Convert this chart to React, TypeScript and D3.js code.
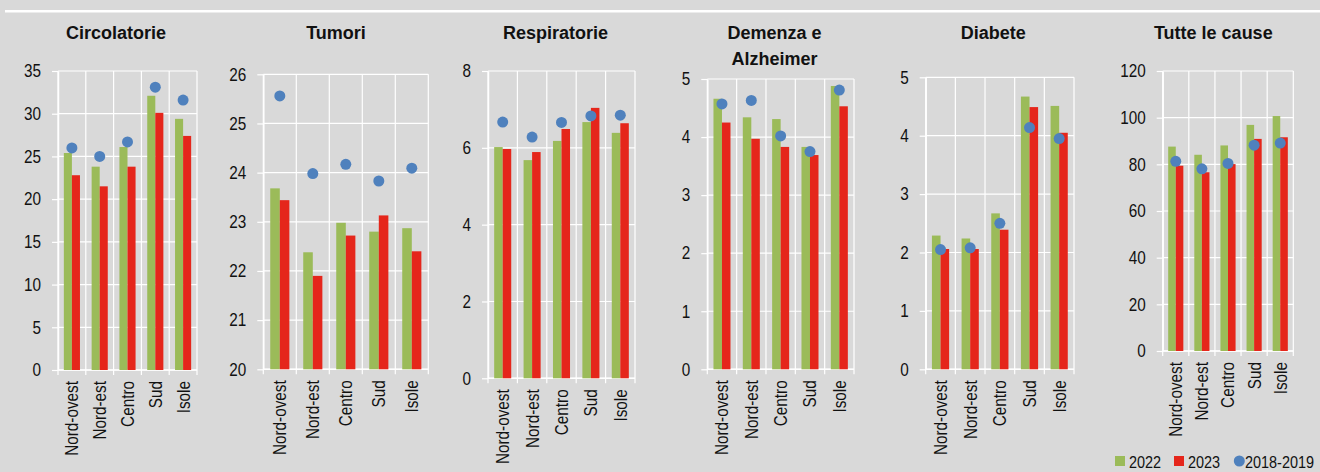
import React, { useRef, useEffect } from 'react';
import * as d3 from 'd3';

const regions = ['Nord-ovest', 'Nord-est', 'Centro', 'Sud', 'Isole'];
const seriesNames = ['2022', '2023', '2018-2019'];

const circolatorie2022 = [25.4, 23.8, 26.1, 32.1, 29.4];
const circolatorie2023 = [22.8, 21.5, 23.8, 30.1, 27.4];
const circolatorie1819 = [26.0, 25.0, 26.7, 33.1, 31.6];
const circolatorieTicks = [0, 5, 10, 15, 20, 25, 30, 35];

const tumori2022 = [23.68, 22.38, 22.98, 22.8, 22.87];
const tumori2023 = [23.44, 21.9, 22.72, 23.13, 22.4];
const tumori1819 = [25.56, 23.98, 24.17, 23.83, 24.09];
const tumoriTicks = [20, 21, 22, 23, 24, 25, 26];

const respiratorie2022 = [6.02, 5.68, 6.18, 6.67, 6.39];
const respiratorie2023 = [5.97, 5.89, 6.49, 7.04, 6.64];
const respiratorie1819 = [6.67, 6.28, 6.66, 6.83, 6.85];
const respiratorieTicks = [0, 2, 4, 6, 8];

const demenza2022 = [4.66, 4.34, 4.31, 3.83, 4.88];
const demenza2023 = [4.25, 3.97, 3.83, 3.69, 4.53];
const demenza1819 = [4.57, 4.63, 4.02, 3.75, 4.81];
const demenzaTicks = [0, 1, 2, 3, 4, 5];

const diabete2022 = [2.29, 2.24, 2.67, 4.67, 4.51];
const diabete2023 = [2.06, 2.06, 2.39, 4.49, 4.05];
const diabete1819 = [2.05, 2.08, 2.5, 4.14, 3.95];
const diabeteTicks = [0, 1, 2, 3, 4, 5];

const tutte2022 = [87.6, 84.1, 88.1, 96.9, 100.7];
const tutte2023 = [79.4, 76.6, 80.1, 90.9, 91.6];
const tutte1819 = [81.3, 78.1, 80.4, 88.2, 89.1];
const tutteTicks = [0, 20, 40, 60, 80, 100, 120];

const GREEN = '#9bbb59';
const RED = '#e5261b';
const BLUE = '#4f81bd';
const BG = '#d9d9d9';
const FONT = '"Liberation Sans", Arial, sans-serif';
// no Arial Narrow installed: squeeze the regular face horizontally instead
const SQUEEZE = 0.85;
const LABEL_SIZE = 18;

// layout of each small multiple (pixel box of the plot area)
const panels = [
  { title: ['Circolatorie'], titleX: 116, a: circolatorie2022, b: circolatorie2023, c: circolatorie1819, ticks: circolatorieTicks, left: 58, right: 197, top: 71, bottom: 370 },
  { title: ['Tumori'], titleX: 336, a: tumori2022, b: tumori2023, c: tumori1819, ticks: tumoriTicks, left: 263.3, right: 428.3, top: 74.3, bottom: 369.3 },
  { title: ['Respiratorie'], titleX: 555.5, a: respiratorie2022, b: respiratorie2023, c: respiratorie1819, ticks: respiratorieTicks, left: 488, right: 635, top: 71, bottom: 378.3 },
  { title: ['Demenza e', 'Alzheimer'], titleX: 774.6, a: demenza2022, b: demenza2023, c: demenza1819, ticks: demenzaTicks, left: 707.3, right: 854, top: 79, bottom: 369.3 },
  { title: ['Diabete'], titleX: 993.3, a: diabete2022, b: diabete2023, c: diabete1819, ticks: diabeteTicks, left: 925.7, right: 1074, top: 77.3, bottom: 369.3 },
  { title: ['Tutte le cause'], titleX: 1213.3, a: tutte2022, b: tutte2023, c: tutte1819, ticks: tutteTicks, left: 1162.7, right: 1293.3, top: 71, bottom: 351 },
];

const App = () => {
  const svgRef = useRef<SVGSVGElement>(null);

  useEffect(() => {
    const svg = d3.select(svgRef.current);
    svg.selectAll('*').remove();

    svg.append('rect').attr('width', 1320).attr('height', 472).attr('fill', BG);
    svg.append('rect').attr('x', 5).attr('y', 10).attr('width', 1315).attr('height', 2.5).attr('fill', '#fff');

    const narrowText = (sel: any) => sel
      .attr('font-family', FONT)
      .attr('font-size', LABEL_SIZE)
      .attr('fill', '#111');

    panels.forEach(p => {
      const g = svg.append('g');
      const x = d3.scaleBand<string>().domain(regions).range([p.left, p.right]);
      const y = d3.scaleLinear()
        .domain([p.ticks[0], p.ticks[p.ticks.length - 1]])
        .range([p.bottom, p.top]);
      const bw = x.bandwidth() * 0.29;
      const cx = (r: string) => (x(r) as number) + x.bandwidth() / 2;

      // title
      p.title.forEach((t, i) => {
        g.append('text')
          .attr('x', p.titleX)
          .attr('y', 38.5 + i * 26)
          .attr('text-anchor', 'middle')
          .attr('font-family', FONT)
          .attr('font-weight', 'bold')
          .attr('font-size', 18)
          .attr('fill', '#111')
          .text(t);
      });

      // grid
      g.append('g').selectAll('line')
        .data(p.ticks)
        .join('line')
        .attr('x1', p.left).attr('x2', p.right)
        .attr('y1', d => y(d)).attr('y2', d => y(d))
        .attr('stroke', '#fff').attr('stroke-width', 1.2);

      const bounds = d3.range(regions.length + 1).map(i => p.left + i * x.step());
      g.append('g').selectAll('line')
        .data(bounds)
        .join('line')
        .attr('x1', d => d).attr('x2', d => d)
        .attr('y1', p.top).attr('y2', p.bottom + 5)
        .attr('stroke', '#fff').attr('stroke-width', 1.2);

      // y axis
      const yAxis = g.append('g')
        .attr('transform', `translate(${p.left},0)`)
        .call(d3.axisLeft(y).tickValues(p.ticks).tickSize(6).tickSizeOuter(0).tickPadding(11).tickFormat(d3.format('d')));
      yAxis.select('.domain').attr('stroke', '#fff').attr('stroke-width', 1.5);
      yAxis.selectAll('.tick line').attr('stroke', '#fff').attr('stroke-width', 1.2);
      yAxis.selectAll('.tick text')
        .attr('x', null)
        .attr('transform', `translate(-17,0) scale(${SQUEEZE},1)`)
        .call(narrowText);

      g.append('line')
        .attr('x1', p.left).attr('x2', p.right)
        .attr('y1', p.bottom).attr('y2', p.bottom)
        .attr('stroke', '#fff').attr('stroke-width', 1.5);

      // bars
      g.append('g').selectAll('rect')
        .data(regions)
        .join('rect')
        .attr('x', d => cx(d) - bw)
        .attr('y', (d, i) => y(p.a[i]))
        .attr('width', bw)
        .attr('height', (d, i) => p.bottom - y(p.a[i]))
        .attr('fill', GREEN);

      g.append('g').selectAll('rect')
        .data(regions)
        .join('rect')
        .attr('x', d => cx(d))
        .attr('y', (d, i) => y(p.b[i]))
        .attr('width', bw)
        .attr('height', (d, i) => p.bottom - y(p.b[i]))
        .attr('fill', RED);

      g.append('g').selectAll('circle')
        .data(regions)
        .join('circle')
        .attr('cx', d => cx(d))
        .attr('cy', (d, i) => y(p.c[i]))
        .attr('r', 5.5)
        .attr('fill', BLUE);

      // category labels
      g.append('g').selectAll('text')
        .data(regions)
        .join('text')
        .attr('transform', d => `translate(${cx(d)},${p.bottom + 11}) rotate(-90) scale(${SQUEEZE},1)`)
        .attr('text-anchor', 'end')
        .attr('dy', '0.36em')
        .call(narrowText)
        .text(d => d);
    });

    // legend (kept just inside the bottom edge)
    const legend = svg.append('g');
    const lx = [1115, 1174, 1234];
    legend.append('rect').attr('x', lx[0]).attr('y', 456).attr('width', 10).attr('height', 10).attr('fill', GREEN);
    legend.append('rect').attr('x', lx[1]).attr('y', 456).attr('width', 10).attr('height', 10).attr('fill', RED);
    legend.append('circle').attr('cx', lx[2] + 5.3).attr('cy', 461).attr('r', 5.5).attr('fill', BLUE);
    seriesNames.forEach((s, i) => {
      legend.append('text')
        .attr('transform', `translate(${lx[i] + (i === 2 ? 11 : 14)},467.5) scale(${SQUEEZE},1)`)
        .call(narrowText)
        .attr('font-size', 17)
        .text(s);
    });
  }, []);

  return (
    <svg
      ref={svgRef}
      width={1320}
      height={472}
      style={{ position: 'absolute', left: 0, top: 0, display: 'block' }}
    />
  );
};

export default App;
